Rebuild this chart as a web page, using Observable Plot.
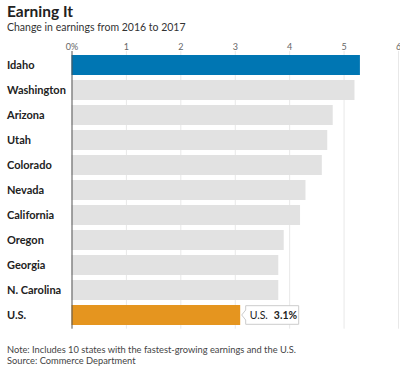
<!DOCTYPE html>
<html><head><meta charset="utf-8">
<script src="https://cdn.jsdelivr.net/npm/d3@7"></script>
<script src="https://cdn.jsdelivr.net/npm/@observablehq/plot@0.6"></script>
<style>
body{margin:0;width:400px;height:367px;position:relative;font-family:Lato,"Noto Sans",sans-serif;background:#fff;overflow:hidden;color:#222}
#title{position:absolute;left:7px;top:4px;font-size:15.5px;line-height:15.5px;font-weight:bold;color:#222;white-space:nowrap}
#sub{position:absolute;left:7px;top:22.4px;font-size:10.5px;line-height:10.5px;color:#333;white-space:nowrap}
#chart{position:absolute;left:0;top:36px}
#note,#src{position:absolute;left:7px;font-size:9.3px;line-height:9.3px;color:#444;white-space:nowrap}
#note{top:345px}
#src{top:355.8px}
</style></head><body>
<div id="title">Earning It</div>
<div id="sub">Change in earnings from 2016 to 2017</div>
<div id="chart"></div>
<div id="note">Note: Includes 10 states with the fastest-growing earnings and the U.S.</div>
<div id="src">Source: Commerce Department</div>
<script>
const states = ["Idaho","Washington","Arizona","Utah","Colorado","Nevada","California","Oregon","Georgia","N. Carolina","U.S."];
const changes = [5.3, 5.2, 4.8, 4.7, 4.6, 4.3, 4.2, 3.9, 3.8, 3.8, 3.1];
const xTicks = [0, 1, 2, 3, 4, 5, 6];
const xTickLabels = ["0%", "1", "2", "3", "4", "5", "6"];
const leader = "Idaho";
const national = "U.S.";
const calloutName = "U.S.";
const calloutValue = "3.1%";

const data = states.map((s, i) => ({
  state: s, value: changes[i],
  kind: s === leader ? "lead" : s === national ? "us" : "other"
}));

const chart = Plot.plot({
  width: 400, height: 296,
  marginTop: 15, marginBottom: 3.3, marginLeft: 71.5, marginRight: 2,
  style: {fontFamily: "Lato, 'Noto Sans', sans-serif", background: "transparent", overflow: "visible"},
  x: {domain: [0, 6], axis: null},
  y: {domain: states, paddingInner: 0.22, paddingOuter: 0.12, axis: null},
  color: {domain: ["lead", "other", "us"], range: ["#0076b3", "#e2e2e2", "#e5951f"]},
  marks: [
    Plot.ruleX(xTicks.slice(1), {stroke: "#e8e8e8"}),
    Plot.barX(data, {y: "state", x: "value", fill: "kind"}),
    Plot.ruleX([0], {stroke: "#555"}),
    Plot.axisX({anchor: "top", ticks: xTicks, tickSize: 0, tickPadding: 2, label: null,
      tickFormat: d => xTickLabels[xTicks.indexOf(d)], fontSize: 9, fill: "#666"}),
    Plot.axisY({anchor: "left", tickSize: 0, tickPadding: 65, textAnchor: "start", label: null,
      fontSize: 11, fontWeight: "bold", fill: "#222"})
  ]
});
document.getElementById("chart").appendChild(chart);

// callout for U.S., positioned through the plot's own scales
const xs = chart.scale("x"), ys = chart.scale("y");
const usVal = changes[states.indexOf(national)];
const px = xs.apply(usVal);
const py = ys.apply(national) + ys.bandwidth / 2;
const g = d3.select(chart).append("g");
const L = px + 5.5, R = px + 58.5, T = py - 9.3, B = py + 9.3, tip = px + 1.5;
g.append("path")
  .attr("d", `M${L},${T}H${R}V${B}H${L}V${py + 5}L${tip},${py}L${L},${py - 5}Z`)
  .attr("fill", "#fff").attr("stroke", "#ccc");
const t = g.append("text").attr("x", L + 4).attr("y", py + 3.7).attr("text-anchor", "start")
  .attr("font-size", 10.5).attr("fill", "#222").attr("font-family", "Lato, 'Noto Sans', sans-serif");
t.append("tspan").text(calloutName);
t.append("tspan").attr("dx", 6).attr("font-weight", "bold").text(calloutValue);
</script>
</body></html>
